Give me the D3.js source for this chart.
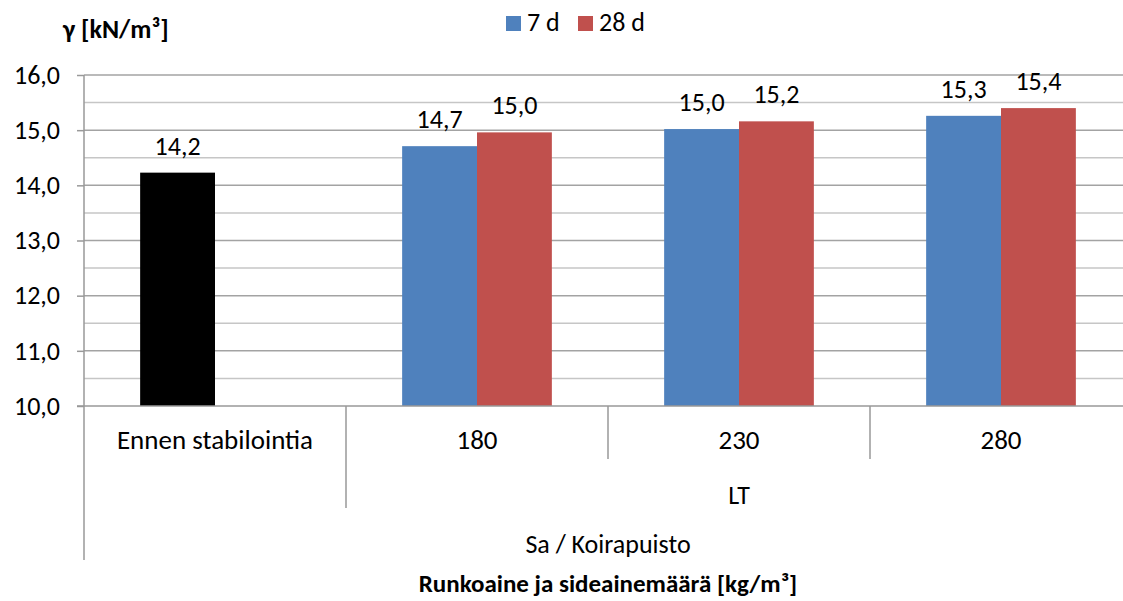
<!DOCTYPE html>
<html>
<head>
<meta charset="utf-8">
<script src="https://cdn.jsdelivr.net/npm/d3@7"></script>
<style>
  body { margin: 0; background: #fff; }
  svg { display: block; font-family: Carlito, Calibri, Lato, sans-serif; }
</style>
</head>
<body>
<svg width="1123" height="601"></svg>
<script>
var categories = ["Ennen stabilointia", "180", "230", "280"];
var series = ["7 d", "28 d"];
var values7 = [14.23, 14.71, 15.02, 15.26];
var values28 = [null, 14.96, 15.16, 15.40];
var yTicks = [10, 11, 12, 13, 14, 15, 16];
var yMinor = [10.5, 11.5, 12.5, 13.5, 14.5, 15.5];
var level2 = { label: "LT", from: 1, to: 3 };
var level3 = { label: "Sa / Koirapuisto" };

var colors = { "7 d": "#4F81BD", "28 d": "#C0504D" };
var firstColor = "#000000";

var svg = d3.select("svg"),
  width = +svg.attr("width"),
  height = +svg.attr("height");

var pLeft = 84, pRight = 1132, pTop = 75, pBottom = 406;
var fs = "26px";

var fmt = d3.formatLocale({ decimal: ",", thousands: " ", grouping: [3], currency: ["", "€"] }).format(".1f");

var y = d3.scaleLinear().domain([10, 16]).range([pBottom, pTop]);
var x0 = d3.scaleBand().domain(categories).range([pLeft, pRight]).paddingInner(0).paddingOuter(0);
var x1 = d3.scaleBand().domain(series).range([0, x0.bandwidth()]).paddingInner(0).paddingOuter(0.75);

// minor + major gridlines
svg.append("g")
  .selectAll("line")
  .data(yMinor)
  .enter()
  .append("line")
  .attr("x1", pLeft).attr("x2", pRight)
  .attr("y1", function (d) { return y(d); })
  .attr("y2", function (d) { return y(d); })
  .attr("stroke", "#c6c6c6")
  .attr("stroke-width", 1.5);

var yAxis = svg.append("g")
  .attr("transform", "translate(" + pLeft + ",0)")
  .call(d3.axisLeft(y).tickValues(yTicks).tickFormat(fmt).tickSize(7).tickPadding(17));
yAxis.select(".domain").remove();
yAxis.selectAll(".tick line").attr("stroke", "#999").attr("stroke-width", 1.5);
yAxis.selectAll(".tick text").style("font-size", fs).attr("fill", "#000");
yAxis.attr("font-family", null).attr("font-size", null);

svg.append("g")
  .selectAll("line")
  .data(yTicks.slice(1))
  .enter()
  .append("line")
  .attr("x1", pLeft).attr("x2", pRight)
  .attr("y1", function (d) { return y(d); })
  .attr("y2", function (d) { return y(d); })
  .attr("stroke", "#a3a3a3")
  .attr("stroke-width", 1.5);

// bars
var rows = categories.map(function (c, i) {
  return { cat: c, vals: [
    { s: "7 d", v: values7[i], i: i },
    { s: "28 d", v: values28[i], i: i }
  ] };
});

var groups = svg.append("g")
  .selectAll("g")
  .data(rows)
  .enter()
  .append("g")
  .attr("transform", function (d) { return "translate(" + x0(d.cat) + ",0)"; });

groups.selectAll("rect")
  .data(function (d) { return d.vals.filter(function (e) { return e.v != null; }); })
  .enter()
  .append("rect")
  .attr("x", function (d) { return x1(d.s); })
  .attr("width", x1.bandwidth())
  .attr("y", function (d) { return y(d.v); })
  .attr("height", function (d) { return y(10) - y(d.v); })
  .attr("fill", function (d) { return d.i === 0 ? firstColor : colors[d.s]; });

groups.selectAll("text")
  .data(function (d) { return d.vals.filter(function (e) { return e.v != null; }); })
  .enter()
  .append("text")
  .attr("x", function (d) { return x1(d.s) + x1.bandwidth() / 2; })
  .attr("y", function (d) { return y(d.v) - 18; })
  .attr("text-anchor", "middle")
  .style("font-size", fs)
  .text(function (d) { return fmt(d.v); });

// axes lines
var axisColor = "#999";
svg.append("line")
  .attr("x1", pLeft).attr("x2", pLeft).attr("y1", pTop).attr("y2", 560)
  .attr("stroke", axisColor).attr("stroke-width", 1.5);
svg.append("line")
  .attr("x1", pLeft - 7).attr("x2", pRight).attr("y1", pBottom).attr("y2", pBottom)
  .attr("stroke", axisColor).attr("stroke-width", 1.5);

// category separators
categories.forEach(function (c, i) {
  if (i === 0) return;
  var xx = x0(c);
  var y2 = i === level2.from ? 508 : 459;
  svg.append("line")
    .attr("x1", xx).attr("x2", xx).attr("y1", pBottom).attr("y2", y2)
    .attr("stroke", axisColor).attr("stroke-width", 1.5);
});

// level 1 labels
svg.append("g")
  .selectAll("text")
  .data(categories)
  .enter()
  .append("text")
  .attr("x", function (d) { return x0(d) + x0.bandwidth() / 2; })
  .attr("y", 449)
  .attr("text-anchor", "middle")
  .style("font-size", "27px")
  .text(function (d) { return d; });

// level 2
svg.append("text")
  .attr("x", (x0(categories[level2.from]) + x0(categories[level2.to]) + x0.bandwidth()) / 2)
  .attr("y", 504)
  .attr("text-anchor", "middle")
  .style("font-size", fs)
  .text(level2.label);

// level 3
svg.append("text")
  .attr("x", (pLeft + pRight) / 2)
  .attr("y", 553)
  .attr("text-anchor", "middle")
  .style("font-size", fs)
  .text(level3.label);

// axis titles
svg.append("text")
  .attr("x", (pLeft + pRight) / 2)
  .attr("y", 592)
  .attr("text-anchor", "middle")
  .style("font-size", "25px")
  .style("font-weight", "bold")
  .text("Runkoaine ja sideainemäärä [kg/m³]");

svg.append("text")
  .attr("x", 63)
  .attr("y", 38)
  .style("font-size", fs)
  .style("font-weight", "bold")
  .text("γ [kN/m³]");

// legend
var legend = svg.append("g");
var lx = [506, 578];
series.forEach(function (s, i) {
  legend.append("rect")
    .attr("x", lx[i]).attr("y", 16).attr("width", 15).attr("height", 15)
    .attr("fill", colors[s]);
  legend.append("text")
    .attr("x", lx[i] + 21).attr("y", 31)
    .style("font-size", fs)
    .text(s);
});
</script>
</body>
</html>
